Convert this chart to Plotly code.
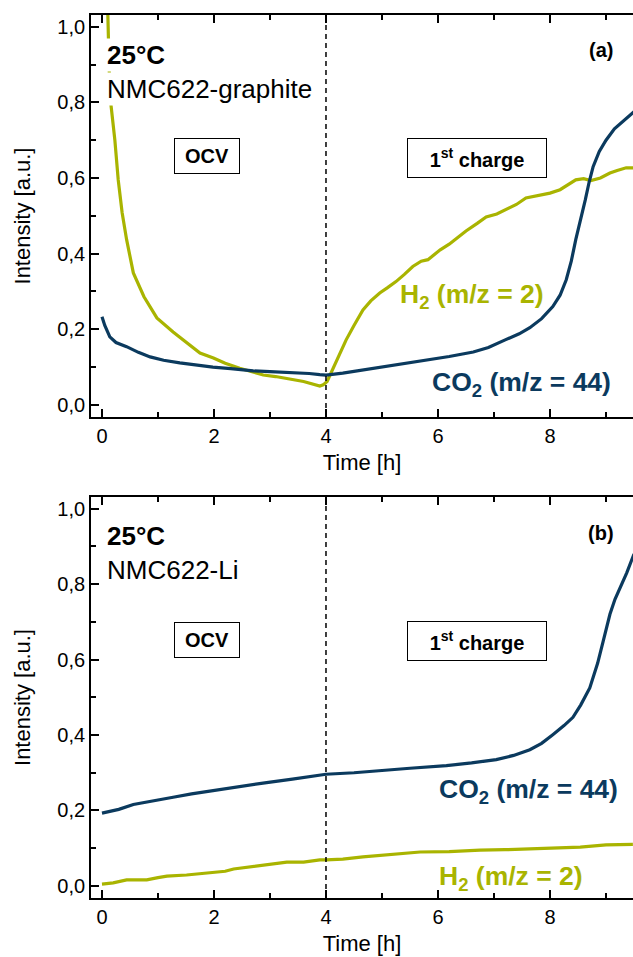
import plotly.graph_objects as go

W, H = 633, 957
FONT = "Liberation Sans, Arial, sans-serif"
H2_COLOR = "#A9B400"
CO2_COLOR = "#0B3A5E"

# ---------------- data (a) NMC622-graphite ----------------
t_h2_a = [0.10, 0.13, 0.16, 0.23, 0.29, 0.36, 0.44, 0.56, 0.75, 0.98, 1.27, 1.50,
          1.75, 1.99, 2.20, 2.46, 2.70, 2.88, 3.10, 3.36, 3.60, 3.89, 3.95, 4.02,
          4.09, 4.20, 4.36, 4.50, 4.66, 4.80, 4.96, 5.10, 5.25, 5.40, 5.55, 5.70,
          5.82, 6.04, 6.20, 6.33, 6.50, 6.70, 6.86, 7.05, 7.21, 7.40, 7.57, 7.80,
          8.00, 8.18, 8.30, 8.46, 8.60, 8.73, 8.90, 9.07, 9.20, 9.36, 9.50]
v_h2_a = [1.06, 0.88, 0.794, 0.70, 0.595, 0.508, 0.437, 0.349, 0.286, 0.23, 0.193, 0.165,
          0.137, 0.124, 0.11, 0.097, 0.087, 0.079, 0.075, 0.068, 0.062, 0.05, 0.053, 0.062,
          0.085, 0.12, 0.172, 0.21, 0.251, 0.275, 0.296, 0.31, 0.326, 0.345, 0.366, 0.38,
          0.384, 0.41, 0.425, 0.44, 0.46, 0.48, 0.497, 0.505, 0.516, 0.53, 0.547, 0.553,
          0.56, 0.569, 0.58, 0.595, 0.598, 0.593, 0.60, 0.613, 0.62, 0.627, 0.627]

t_co2_a = [0.0, 0.05, 0.14, 0.25, 0.44, 0.65, 0.86, 1.10, 1.39, 1.70, 1.98, 2.30, 2.70,
           3.00, 3.41, 3.70, 3.89, 4.00, 4.30, 4.60, 4.96, 5.40, 5.86, 6.20, 6.63, 6.90,
           7.20, 7.45, 7.64, 7.85, 8.05, 8.18, 8.29, 8.38, 8.46, 8.55, 8.63, 8.70, 8.77,
           8.88, 9.00, 9.15, 9.30, 9.50]
v_co2_a = [0.233, 0.21, 0.18, 0.165, 0.154, 0.139, 0.127, 0.118, 0.111, 0.105, 0.10, 0.096, 0.09,
           0.088, 0.086, 0.083, 0.080, 0.079, 0.084, 0.091, 0.10, 0.109, 0.119, 0.128, 0.14, 0.152,
           0.172, 0.188, 0.204, 0.228, 0.26, 0.29, 0.331, 0.38, 0.437, 0.49, 0.542, 0.59, 0.63,
           0.67, 0.70, 0.73, 0.75, 0.775]

# ---------------- data (b) NMC622-Li ----------------
t_co2_b = [0.0, 0.30, 0.56, 0.90, 1.27, 1.60, 1.98, 2.40, 2.94, 3.40, 3.89, 4.00, 4.50,
           4.96, 5.50, 6.15, 6.60, 7.04, 7.35, 7.64, 7.85, 8.05, 8.25, 8.41, 8.55, 8.71,
           8.85, 8.95, 9.07, 9.16, 9.25, 9.37, 9.50]
v_co2_b = [0.193, 0.203, 0.216, 0.226, 0.235, 0.244, 0.253, 0.262, 0.274, 0.283, 0.292, 0.296, 0.30,
           0.306, 0.312, 0.319, 0.326, 0.335, 0.346, 0.361, 0.378, 0.401, 0.425, 0.447, 0.48, 0.525,
           0.59, 0.649, 0.72, 0.76, 0.789, 0.83, 0.88]

t_h2_b = [0.0, 0.20, 0.44, 0.80, 1.00, 1.16, 1.51, 1.98, 2.20, 2.35, 2.94, 3.30, 3.60,
          3.89, 4.00, 4.30, 4.66, 5.20, 5.68, 6.20, 6.75, 7.20, 7.64, 8.10, 8.54, 9.00, 9.48]
v_h2_b = [0.005, 0.008, 0.016, 0.016, 0.022, 0.026, 0.029, 0.037, 0.039, 0.045, 0.055, 0.063, 0.063,
          0.069, 0.069, 0.071, 0.077, 0.083, 0.09, 0.091, 0.095, 0.096, 0.098, 0.10, 0.103, 0.109, 0.11]

x_ticks = [0, 2, 4, 6, 8]
y_ticks = [0.0, 0.2, 0.4, 0.6, 0.8, 1.0]
ocv_end = 4

fig = go.Figure()
fig.add_trace(go.Scatter(x=t_h2_a, y=v_h2_a, mode="lines", line=dict(color=H2_COLOR, width=3.2),
                         xaxis="x", yaxis="y", showlegend=False))
fig.add_trace(go.Scatter(x=t_co2_a, y=v_co2_a, mode="lines", line=dict(color=CO2_COLOR, width=3.2),
                         xaxis="x", yaxis="y", showlegend=False))
fig.add_trace(go.Scatter(x=t_co2_b, y=v_co2_b, mode="lines", line=dict(color=CO2_COLOR, width=3.2),
                         xaxis="x2", yaxis="y2", showlegend=False))
fig.add_trace(go.Scatter(x=t_h2_b, y=v_h2_b, mode="lines", line=dict(color=H2_COLOR, width=3.2),
                         xaxis="x2", yaxis="y2", showlegend=False))


def px(x):
    return x / W


def py(y):
    return 1 - y / H


YRANGE = [-0.032, 1.031]
XRANGE = [-0.196, 9.482]
tickfont = dict(family=FONT, size=20, color="black")
titlefont = dict(family=FONT, size=22, color="black")

common_x = dict(range=XRANGE, tickvals=x_ticks, ticks="inside", ticklen=8, tickwidth=1.5,
                tickcolor="black", showline=True, linecolor="black", linewidth=1.8, mirror="ticks",
                showgrid=False, zeroline=False, tickfont=tickfont,
                minor=dict(dtick=1, tick0=0, ticks="inside", ticklen=5, tickwidth=1.5, tickcolor="black"),
                title=dict(text="Time [h]", font=titlefont, standoff=9))
common_y = dict(range=YRANGE, tickvals=y_ticks, tickformat=".1f", ticks="inside", ticklen=8,
                tickwidth=1.5, tickcolor="black", showline=True, linecolor="black", linewidth=1.8,
                mirror=False, showgrid=False, zeroline=False, tickfont=tickfont,
                minor=dict(dtick=0.1, tick0=0, ticks="inside", ticklen=5, tickwidth=1.5, tickcolor="black"),
                title=dict(text="Intensity [a.u.]", font=titlefont, standoff=21))
right_y = dict(range=YRANGE, tickvals=y_ticks, ticks="inside", ticklen=8, tickwidth=1.5,
               tickcolor="black", showline=False, showticklabels=False, showgrid=False,
               zeroline=False, side="right",
               minor=dict(dtick=0.1, tick0=0, ticks="inside", ticklen=5, tickwidth=1.5, tickcolor="black"))

fig.update_layout(
    width=W, height=H, margin=dict(l=0, r=0, t=0, b=0),
    paper_bgcolor="white", plot_bgcolor="white", separators=",.",
    xaxis=dict(domain=[px(91), 1], anchor="y", **common_x),
    yaxis=dict(domain=[py(417), py(15)], anchor="x", **common_y),
    xaxis2=dict(domain=[px(91), 1], anchor="y2", **common_x),
    yaxis2=dict(domain=[py(898), py(497)], anchor="x2", **common_y),
    yaxis3=dict(domain=[py(417), py(15)], anchor="x", overlaying="y", **right_y),
    yaxis4=dict(domain=[py(898), py(497)], anchor="x2", overlaying="y2", **right_y),
)

for xr, yr in (("x", "y"), ("x2", "y2")):
    fig.add_shape(type="line", xref=xr, yref=yr + " domain", x0=ocv_end, x1=ocv_end, y0=0, y1=1,
                  line=dict(color="black", width=1.5, dash="5px,4px"))

ann = []


def label(text, x, y, size, color="black", bold=False, xanchor="left", bg=None, box=None):
    d = dict(text=f"<b>{text}</b>" if bold else text, x=px(x), y=py(y), xref="paper", yref="paper",
             xanchor=xanchor, yanchor="middle", showarrow=False,
             font=dict(family=FONT, size=size, color=color))
    if bg:
        d["bgcolor"] = bg
        d["borderpad"] = 1
    if box:
        d.update(bgcolor="white", bordercolor="black", borderwidth=1, borderpad=0,
                 width=box[0], height=box[1])
    ann.append(d)


for top, name, ocv_y, ch_y, tag, tag_y in ((55, "NMC622-graphite", 156, 158, "(a)", 50),
                                           (536, "NMC622-Li", 640, 641, "(b)", 533)):
    label("25°C", 105, top, 26, bold=True, bg="white")
    label(name, 105, top + 34, 26, bg="white")
    label("OCV", 207, ocv_y, 20, bold=True, xanchor="center", box=(64, 34))
    label("1<sup>st</sup> charge", 477, ch_y, 20, bold=True, xanchor="center", box=(138, 38))
    label(tag, 601, tag_y, 20, bold=True, xanchor="center")

label("H<sub>2</sub> (m/z = 2)", 398, 296, 26.5, color=H2_COLOR, bold=True)
label("CO<sub>2</sub> (m/z = 44)", 430, 384, 26.5, color=CO2_COLOR, bold=True)
label("CO<sub>2</sub> (m/z = 44)", 437, 791, 26.5, color=CO2_COLOR, bold=True)
label("H<sub>2</sub> (m/z = 2)", 437, 878, 26.5, color=H2_COLOR, bold=True)

fig.update_layout(annotations=ann)
fig.write_html("out.html")
